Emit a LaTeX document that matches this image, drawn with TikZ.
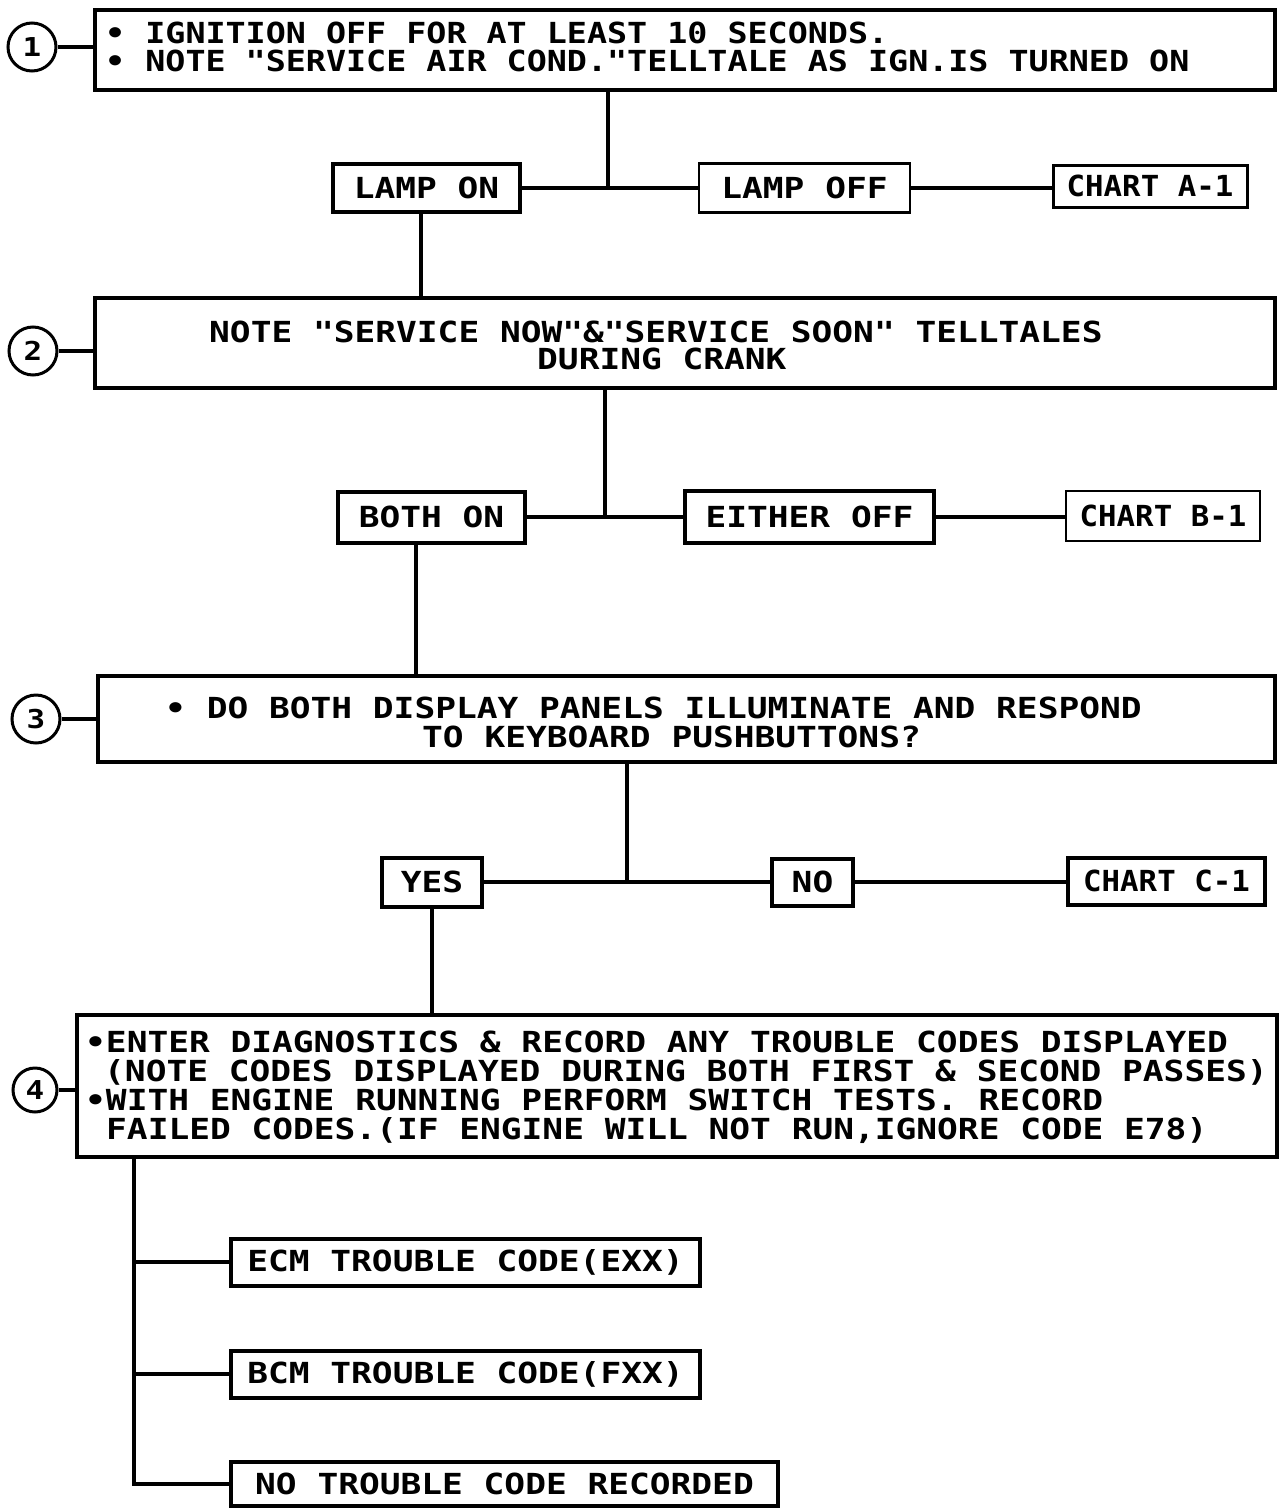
\documentclass[tikz,border=0pt]{standalone}
\usepackage{fontspec}
\newfontfamily\lettA[FakeStretch=1.15]{DejaVu Sans Mono}
\newfontfamily\lett[FakeStretch=1.19]{DejaVu Sans Mono}
\newfontfamily\lettC[FakeStretch=1.06]{DejaVu Sans Mono}
\begin{document}
\begin{tikzpicture}[x=1pt,y=-1pt,
  box/.style={draw,line width=4pt,inner sep=0pt,font=\lett\bfseries\fontsize{29}{29}\selectfont},
  thinbox/.style={box,line width=2.5pt},
  chartbox/.style={box,font=\lettC\bfseries\fontsize{29}{29}\selectfont},
  wire/.style={line width=3.5pt},
  txt/.style={inner sep=0pt,anchor=base west,font=\lett\bfseries\fontsize{29}{29}\selectfont},
  txtA/.style={txt,font=\lettA\bfseries\fontsize{29}{29}\selectfont},
  num/.style={draw,circle,line width=3pt,minimum size=48pt,inner sep=0pt,font=\lett\bfseries\fontsize{26}{26}\selectfont}]
\fill[white] (0,0) rectangle (1280,1510);
\useasboundingbox (0,0) rectangle (1280,1510);

% ---- step 1
\node[box,minimum width=1180pt,minimum height=80pt] (b1) at (685,50) {};
\node[txtA] (t1a) at (105,43) {• IGNITION OFF FOR AT LEAST 10 SECONDS.};
\node[txtA] (t1b) at (105,71) {• NOTE "SERVICE AIR COND."TELLTALE AS IGN.IS TURNED ON};
\node[num] (c1) at (32,47) {1};
\draw[wire] (c1.east) -- (c1.east -| b1.west);

\node[box,minimum width=187pt,minimum height=48pt] (lampon) at (426.5,188) {LAMP ON};
\node[thinbox,minimum width=211pt,minimum height=49pt] (lampoff) at (804.5,188) {LAMP OFF};
\node[chartbox,line width=3pt,minimum width=194pt,minimum height=42pt] (chartA) at (1150,186) {CHART A-1};
\coordinate (j1) at (608,188);
\coordinate (k1) at (421,0);
\draw[wire] (b1.south -| j1) -- (j1);
\draw[wire] (lampon.east) -- (lampoff.west);
\draw[wire] (lampoff.east) -- (lampoff.east -| chartA.west);

% ---- step 2
\node[box,minimum width=1180pt,minimum height=90pt] (b2) at (685,343) {};
\node[txt] (t2a) at (209,342) {NOTE "SERVICE NOW"\&"SERVICE SOON" TELLTALES};
\node[txt] (t2b) at (537,369) {DURING CRANK};
\node[num] (c2) at (33,351) {2};
\draw[wire] (c2.east) -- (c2.east -| b2.west);
\draw[wire] (lampon.south -| k1) -- (b2.north -| k1);

\node[box,minimum width=187pt,minimum height=51pt] (bothon) at (431.5,517) {BOTH ON};
\node[box,minimum width=249pt,minimum height=52pt] (eitheroff) at (809.5,517) {EITHER OFF};
\node[chartbox,line width=2.5pt,minimum width=194pt,minimum height=50pt] (chartB) at (1163,516) {CHART B-1};
\coordinate (j2) at (605,517);
\coordinate (k2) at (416,0);
\draw[wire] (b2.south -| j2) -- (j2);
\draw[wire] (bothon.east) -- (eitheroff.west);
\draw[wire] (eitheroff.east) -- (eitheroff.east -| chartB.west);

% ---- step 3
\node[box,minimum width=1177pt,minimum height=86pt] (b3) at (686.5,719) {};
\node[txt] (t3a) at (165,718) {• DO BOTH DISPLAY PANELS ILLUMINATE AND RESPOND};
\node[txt] (t3b) at (422,747) {TO KEYBOARD PUSHBUTTONS?};
\node[num] (c3) at (36,719) {3};
\draw[wire] (c3.east) -- (c3.east -| b3.west);
\draw[wire] (bothon.south -| k2) -- (b3.north -| k2);

\node[box,minimum width=100pt,minimum height=49pt] (yes) at (432,882) {YES};
\node[box,minimum width=81pt,minimum height=47pt] (no) at (812.5,882) {NO};
\node[chartbox,minimum width=197pt,minimum height=47pt] (chartC) at (1166.5,881) {CHART C-1};
\coordinate (j3) at (627,882);
\draw[wire] (b3.south -| j3) -- (j3);
\draw[wire] (yes.east) -- (no.west);
\draw[wire] (no.east) -- (no.east -| chartC.west);

% ---- step 4
\node[box,minimum width=1200pt,minimum height=142pt] (b4) at (677,1086) {};
\node[txt] (t4a) at (85,1052) {•ENTER DIAGNOSTICS \& RECORD ANY TROUBLE CODES DISPLAYED};
\node[txt] (t4b) at (104,1081) {(NOTE CODES DISPLAYED DURING BOTH FIRST \& SECOND PASSES)};
\node[txt] (t4c) at (85,1110) {•WITH ENGINE RUNNING PERFORM SWITCH TESTS. RECORD};
\node[txt] (t4d) at (106,1139) {FAILED CODES.(IF ENGINE WILL NOT RUN,IGNORE CODE E78)};
\node[num,minimum size=44pt] (c4) at (35,1090) {4};
\draw[wire] (c4.east) -- (c4.east -| b4.west);
\draw[wire] (yes.south) -- (b4.north -| yes.south);

\node[box,minimum width=469pt,minimum height=47pt] (ecm) at (465.5,1262) {ECM TROUBLE CODE(EXX)};
\node[box,minimum width=469pt,minimum height=47pt] (bcm) at (465.5,1374) {BCM TROUBLE CODE(FXX)};
\node[box,minimum width=547pt,minimum height=44pt] (notc) at (504.5,1484) {NO TROUBLE CODE RECORDED};
\coordinate (k4) at (134,0);
\draw[wire] (b4.south -| k4) -- (notc.west -| k4) -- (notc.west);
\draw[wire] (ecm.west -| k4) -- (ecm.west);
\draw[wire] (bcm.west -| k4) -- (bcm.west);
\end{tikzpicture}
\end{document}
